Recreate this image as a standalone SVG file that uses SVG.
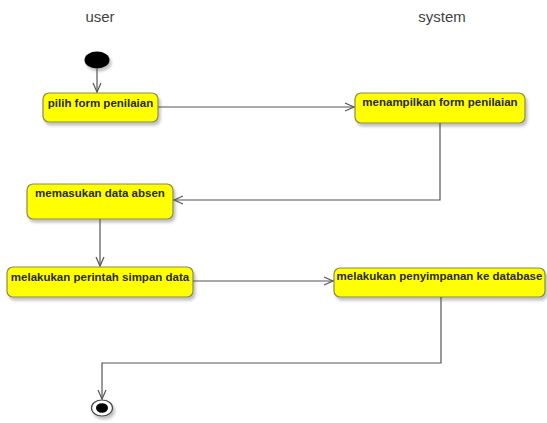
<svg xmlns="http://www.w3.org/2000/svg" width="547" height="423" viewBox="0 0 547 423">
<defs>
<marker id="arr" markerWidth="12" markerHeight="12" refX="10" refY="5" orient="auto" markerUnits="userSpaceOnUse">
<path d="M1,1 L10,5 L1,9" fill="none" stroke="#555" stroke-width="1.2"/>
</marker>
<filter id="sh" x="-10%" y="-10%" width="130%" height="140%">
<feGaussianBlur in="SourceAlpha" stdDeviation="1.5"/>
<feOffset dx="2" dy="3" result="b"/>
<feComponentTransfer><feFuncA type="linear" slope="0.25"/></feComponentTransfer>
<feMerge><feMergeNode/><feMergeNode in="SourceGraphic"/></feMerge>
</filter>
</defs>
<style>
.lane{font-family:"Liberation Sans",Arial,sans-serif;font-size:15px;fill:#444}
.act rect{fill:#ffff00;stroke:#8a8a50;stroke-width:1.2;filter:url(#sh)}
.act text{font-family:"Liberation Sans",Arial,sans-serif;font-size:11.5px;font-weight:bold;fill:#2a2a2a;text-anchor:middle}
.conn path{fill:none;stroke:#555;stroke-width:1.2}
</style>
<rect width="547" height="423" fill="#fff"/>
<text class="lane" x="100" y="22" text-anchor="middle">user</text>
<text class="lane" x="442" y="22" text-anchor="middle">system</text>
<g id="start"><ellipse cx="97" cy="60" rx="12.5" ry="8.5" fill="#000" filter="url(#sh)"/></g>
<g id="n1" class="act"><rect x="43" y="93" width="115" height="29" rx="6"/><text x="100.5" y="107">pilih form penilaian</text></g>
<g id="n2" class="act"><rect x="355" y="93" width="170" height="30" rx="6"/><text x="440" y="106">menampilkan form penilaian</text></g>
<g id="n3" class="act"><rect x="27" y="184" width="146" height="35" rx="6"/><text x="100" y="197">memasukan data absen</text></g>
<g id="n4" class="act"><rect x="7" y="267" width="186" height="30" rx="6"/><text x="100" y="281">melakukan perintah simpan data</text></g>
<g id="n5" class="act"><rect x="334" y="268" width="211" height="29" rx="6"/><text x="439.5" y="280">melakukan penyimpanan ke database</text></g>
<g id="end"><ellipse cx="102" cy="408" rx="10.5" ry="8" fill="#fff" stroke="#444" stroke-width="1.2" filter="url(#sh)"/><ellipse cx="102" cy="408" rx="6" ry="4.8" fill="#000"/></g>
<g id="connectors" class="conn">
<path d="M97,68.5 V92" marker-end="url(#arr)"/>
<path d="M158,107 H354" marker-end="url(#arr)"/>
<path d="M440,123 V200 H174" marker-end="url(#arr)"/>
<path d="M100,219 V266" marker-end="url(#arr)"/>
<path d="M193,281 H333" marker-end="url(#arr)"/>
<path d="M441,297 V363 H102 V399" marker-end="url(#arr)"/>
</g>
</svg>
